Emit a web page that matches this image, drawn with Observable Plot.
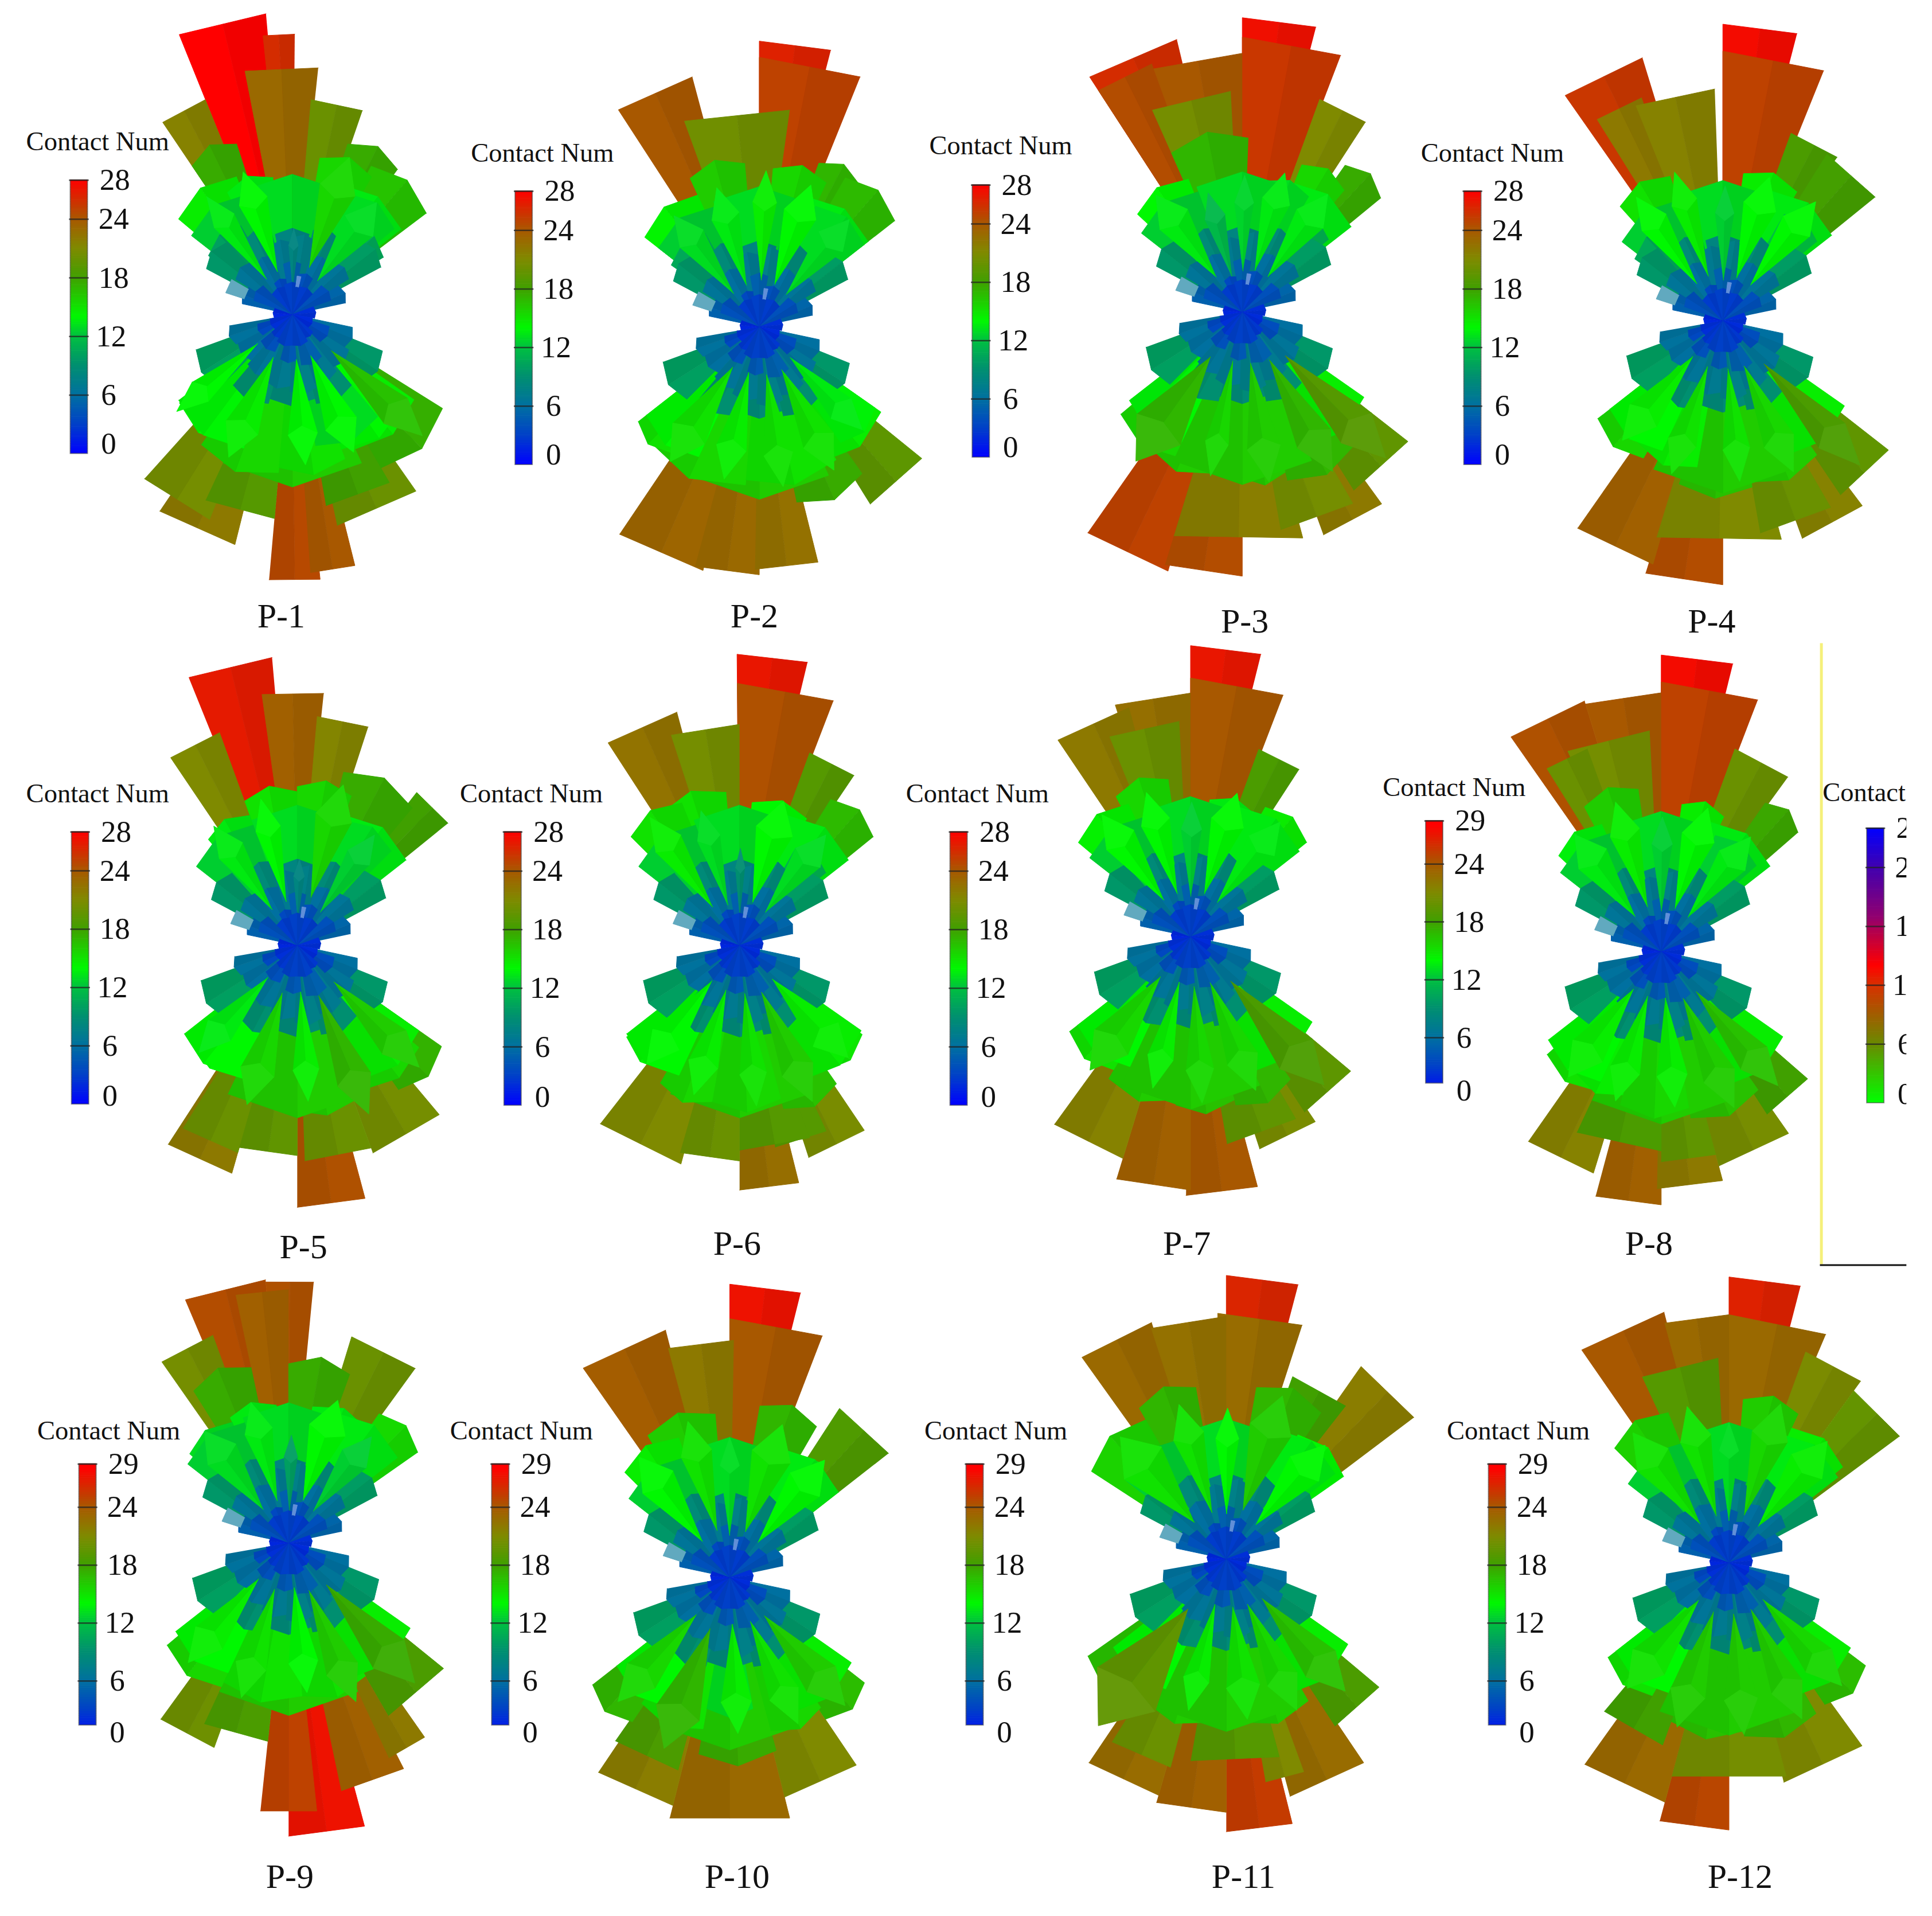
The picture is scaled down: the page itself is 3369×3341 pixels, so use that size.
<!DOCTYPE html>
<html><head><meta charset="utf-8">
<style>html,body{margin:0;padding:0;background:#fff}svg{display:block}</style>
<script src="https://cdn.jsdelivr.net/npm/d3@7"></script>
<script src="https://cdn.jsdelivr.net/npm/@observablehq/plot@0.6"></script>
</head><body><div id="c"></div><script>
// Each wedge: [start angle, end angle (degrees clockwise from up), contact number]
const p1 = [[-22,-5,28],[-6,0.5,26],[-11,6,23],[-34,-22,21.5],[5,19,20],[18,36,17.5],[28,53,16.4],[-34,-18,17.5],[-50,-22,14.5],[-28,-8,13.5],[-55,-30,10],[10,30,15.5],[25,50,13],[35,58,10.5],
  [194,214,22],[202,222,20.5],[174,185,24.7],[166,176,24],[145,168,20],[122,150,17.3],[150,170,18],[185,205,19],[200,233,13.9],[130,160,14],[160,185,15],[185,215,15.5],[140,170,13]];
const p2 = [[-33,-15,24],[0,14.5,26.5],[0,22,25],[-20,8,20.3],[30,52,16.8],[20,35,17],[-52,-25,14.2],[-55,-30,10.5],[-25,-5,16],[5,25,15.5],[25,52,13],
  [193,214,23.2],[180,195,23],[166,181,22.5],[129,148,19.4],[145,168,17.5],[215,232,15],[185,225,15.5],[150,185,15],[125,145,13.8]];
const p3 = [[-33,-13.5,26],[-33,-20,24.5],[0,14.5,27.3],[0,21,25.5],[-20,0,24],[20,33,21],[-24,-3,20.5],[-47,-22,14],[35,50.6,17.5],[22,40,15.5],[-24,2,17],[10,30,13],[30,50,11],
  [196,215,25],[180,197,24.5],[165,197,21.7],[144,160,22],[150,170,20.5],[128,148,19.5],[140,165,17],[165,180,16.2],[205,230,15.5],[215,232,13.8],[190,215,16]];
const p4 = [[-35,-17,25.5],[0,14.5,27.5],[0,22,25],[-22,-2,21.5],[-32,-20,22],[32,51,18.2],[20,35,18.5],[-42,-20,15],[-55,-30,10.5],[8,30,14.5],[30,50,12],
  [196,215,23.5],[180,197,24.5],[165,197,21],[143,160,21.5],[150,170,20],[128,146,19.5],[210,232,15.5],[145,170,16],[170,195,16.5],[190,215,14.5]];
const p5 = [[-22,-5,26.8],[-8,6,23.5],[-34,-20,21],[5,18,21.3],[38,51,18],[15,40,17.5],[-40,-20,13.5],[-20,0,15],[0,20,15.5],[20,45,13],
  [196,213,22],[165,180,24.3],[125,145,17.2],[140,160,20.5],[160,178,20],[180,196,19.5],[196,212,20],[200,231,14],[130,155,15.5],[155,185,16]];
const p6 = [[-0.5,13.5,27],[-0.5,21,24.3],[-33,-15,22.4],[-18,0,20.5],[20,34,19],[32,51,16.8],[-30,-5,15],[-45,-22,15],[5,28,14],[30,50,11],
  [195,218,21],[166,180,22.7],[146,162,20.7],[155,170,19],[126,146,14.8],[180,196,20],[160,180,19],[210,231,14.2],[145,165,16.5],[165,190,15.5],[190,210,15.5]];
const p7 = [[0,14,27],[0,21,24],[-34,-15,22],[-18,0,22.6],[-22,-3,20],[20,33,18.5],[30,51,14.6],[-50,-25,14.3],[-28,-8,15.5],[8,28,13.5],
  [197,216,21.5],[180,197,23.5],[165,181,24],[146,162,20.7],[150,170,19.5],[130,147,19.4],[210,232,15],[145,165,17],[165,185,16.5],[185,210,16]];
const p8 = [[0,14,27.5],[0,21,25],[-35,-17,24.3],[-17,0,24],[-25,-3,20.5],[-32,-20,20],[20,36,20],[35,49,17.7],[-47,-25,13.7],[-28,-8,16],[8,25,14.5],[25,48,12.5],
  [197,215,21.5],[180,195,23.5],[165,181,22],[145,165,20.6],[131,147,18],[205,228,15],[165,180,19.5],[180,205,18.5],[145,170,16.5],[170,195,15.5],[195,215,14.5]];
const p9 = [[-23,-5,24.5],[-12,0,23.5],[-5,5.5,24.3],[-35,-20,20.5],[17,36,20],[35,55,15.4],[-32,-12,17.5],[0,20,17.5],[-48,-25,13],[-25,-5,13.5],[10,35,13.5],
  [200,216,20.2],[165,180,27.2],[174,186,25],[153,168,23.5],[145,155,22],[129,150,18.5],[186,205,18.5],[205,230,15.5],[150,175,15],[175,205,15]];
const p10 = [[0,14,27.2],[0,21,24],[-35,-14.5,23.7],[33,52,18.7],[-15,1,22],[10,30,17],[-30,-5,16],[-45,-20,14.5],[25,50,13.5],
  [194,214,21.8],[166,194,23],[146,166,21],[128,146,16.7],[214,232,17],[195,215,18.5],[165,190,17.5],[145,165,15.5],[190,215,15],[170,190,13]];
const p11 = [[0,14.7,26.3],[-2,18,22.8],[-35.6,-17.5,23],[-18,0,22.5],[35,53,21.8],[-57,-30,15.7],[-30,-10,17],[10,33,17],[30,55,14],[20,38,18],
  [196,214,22.8],[166,180,25.3],[146,165,22.8],[160,170,21],[130,147,18.5],[212,235,16.5],[180,196,23.5],[195,212,20],[165,190,19],[150,175,16],[185,210,16]];
const p12 = [[0,14.5,26.5],[0,23,23],[-34.7,-14.5,24],[-15,0,23],[20,36,20.8],[36,53.5,19.7],[-25,-3,19],[-45,-22,15.8],[5,25,16],[25,50,14.5],
  [195,215.6,23],[180,195,24.8],[144,166,21],[127,146,16.7],[210,232,15],[165,195,20.5],[150,175,17],[175,200,16.5],[200,220,18]];
const wedgeSets = [p1,p2,p3,p4,p5,p6,p7,p8,p9,p10,p11,p12];

// narrow cones that lie in front of the blue and teal hub
const c1 = [[-42,-30,13.5],[-26,-12,14],[12,28,15.5],[28,46,13],[-3,5,8],[224,236,14],[196,212,14.5],[168,182,14],[148,164,14],[126,140,16.5]];
const c2 = [[-45,-30,13],[-24,-10,13.5],[-3,8,14.5],[12,28,14],[32,48,13],[205,222,15],[186,200,14.5],[165,178,15],[145,160,15],[128,142,13.5]];
const c3 = [[-45,-28,13.5],[-22,-10,11.5],[-4,6,12.7],[10,24,13.5],[28,44,13.5],[205,226,17],[186,196,15.5],[164,178,16],[143,158,17],[128,143,19]];
const c4 = [[-42,-28,14],[-24,-12,14.5],[-4,6,12.5],[10,26,14],[30,46,14],[212,228,14.5],[192,205,15],[168,180,15],[148,162,15.5],[130,143,18.5]];
const c5 = [[-42,-28,13.5],[-20,-8,14],[8,24,15.5],[28,42,12.5],[-3,6,8],[215,230,13.5],[190,205,15.5],[170,182,14.5],[150,164,17],[128,142,16]];
const c6 = [[-42,-28,14.5],[-22,-10,13],[-3,4,9],[8,26,14],[30,46,13],[210,226,14],[190,204,14.5],[168,180,15],[148,162,16],[128,144,14.5]];
const c7 = [[-44,-28,14],[-24,-10,14],[-5,6,12.5],[10,26,14],[30,46,13.5],[208,226,15.5],[188,200,14.5],[170,182,15.5],[150,164,15.5],[130,146,18.5]];
const c8 = [[-45,-28,13.5],[-24,-10,14.5],[-5,6,12.5],[10,26,14],[30,46,13.5],[208,225,14.5],[190,204,14.5],[168,182,14.5],[148,162,16],[132,146,16.5]];
const c9 = [[-46,-28,13],[-22,-8,13.5],[-3,6,10],[10,28,14],[30,46,12.5],[212,228,14.5],[190,204,15],[166,180,14],[150,164,16],[130,146,17.5]];
const c10 = [[-46,-28,14],[-22,-8,15],[-5,5,13],[10,28,15],[30,48,14],[214,230,15.5],[192,210,17],[170,184,14.5],[148,162,15],[130,146,16]];
const c11 = [[-52,-30,15],[-24,-10,15],[-5,6,14],[10,28,16],[32,50,14],[205,230,19.5],[188,200,14.5],[165,180,15],[148,162,15.5],[130,146,16.5]];
const c12 = [[-45,-28,15],[-22,-8,15],[-5,5,13],[10,26,15.5],[30,48,14.5],[210,228,15],[190,205,16],[168,182,16],[148,162,16],[130,145,15.5]];
const coneSets = [c1,c2,c3,c4,c5,c6,c7,c8,c9,c10,c11,c12];

const domeWedges = [[-52,-20,12.5],[-20,20,13],[20,52,13.5],[125,155,14.5],[155,205,16],[205,232,14]];
const midWedges = [[-62,-42,9.5],[42,62,9.8],[-36,-14,8.5],[14,36,8.5],[-12,12,8],[112,135,9.5],[225,250,10],[140,165,9],[165,195,8.5],[195,220,9]];
const coreWedges = [[-78,-58,5],[-58,-38,6.5],[-38,-18,6],[-18,0,7],[0,18,7.5],[18,38,6],[38,58,6.5],[58,78,5.3],[-70,-45,4],[-30,-10,3.5],[-10,10,5],[10,30,4],[45,70,4],
  [102,122,6],[122,142,6.5],[142,162,7],[162,182,7.5],[182,202,7],[202,222,6.5],[222,242,6],[242,260,6.2],[108,135,3.8],[145,170,5],[175,195,4.5],[205,230,4],[235,255,3.5]];
const hubWedges = [[-100,-70,1.8],[70,100,2.2],[100,130,2],[230,260,2.2],[-45,-15,2.8],[15,45,2.8],[-15,15,3],[150,180,3],[180,210,3],[130,150,2.6],[210,230,2.6]];
const paleWedges = [[-72,-60,6.5],[7,13,3.6]];

const panelNames = ["P-1","P-2","P-3","P-4","P-5","P-6","P-7","P-8","P-9","P-10","P-11","P-12"];
const centerX = [237,616,1008,1398,241,600,966,1348,234,592,995,1403];
const centerY = [255,265,253,260,767,767,760,772,1252,1280,1265,1268];
const nameX = [228,612,1010,1389,246,598,963,1338,235,598,1009,1412];
const nameY = [500,500,504,504,1012,1009,1009,1009,1523,1523,1523,1523];
const barLeft = [57,418,789,1188,58,409,771,1157,64,399,784,1208];
const barTop = [146,155,150,155,675,675,675,666,1188,1188,1188,1188];
const barBottom = [368,377,371,377,896,897,897,879,1400,1400,1400,1400];
const titleX = [79,440,812,1211,79,431,793,1180,88,423,808,1232];
const titleY = [115,124,118,124,644,644,644,639,1161,1161,1161,1161];
const barMax = [28,28,28,28,28,28,28,29,29,29,29,29];
const zeroShift = [-8,-8,-8,-8,-7,-7,-7,6,6,6,6,6];
const tickValues = [0,6,12,18,24];
const tickNudge = [17,17,19,21,21,22];

const colorStops = [0,3,6,9,12,14,18,21,24,28];
const colorHex = ["#0000ff","#0040c8","#0070a0","#008f70","#00c040","#00f800","#40a000","#7f8a00","#a85800","#ff0000"];
const altStops = [0,6,12,14,19,24,28];
const altHex = ["#00ff00","#6a8a00","#d83000","#ff0000","#900070","#4000b0","#0000ff"];

const K = 8.75, BW = 14;
const dark = colorHex.map(c => d3.rgb(c).darker(0.16).formatHex());
const light = colorHex.map(c => d3.interpolateRgb(c,"#ffffff")(0.04));
const pale = colorHex.map(c => d3.interpolateRgb(c,"#ffffff")(0.38));
const colorDomain = [...colorStops, ...colorStops.map(d=>d+100), ...colorStops.map(d=>d+200), ...colorStops.map(d=>d+400), ...altStops.map(d=>d+600)];
const colorRange = [...colorHex, ...dark, ...light, ...pale, ...altHex];

const rows = [];
let id = 0;
const rad = d=>d*Math.PI/180;
wedgeSets.forEach((set,pi) => {
  const cx = centerX[pi], cy = centerY[pi];
  const pt = (a,q)=>[cx+q*Math.sin(rad(a)), cy-q*Math.cos(rad(a))];
  const add = (pts,v,tone)=>{ id++; pts.forEach(p=>rows.push({id,x:p[0],y:p[1],c:v+tone})); };
  const wedge = ([a0,a1,v]) => {
    const r=v*K, m=(a0+a1)/2, peaked=v<18, q=peaked?0.95:1;
    const L=pt(a0,r*q), R=pt(a1,r*q);
    const M=peaked?pt(m,r):[(L[0]+R[0])/2,(L[1]+R[1])/2];
    add([[cx,cy],L,M],v,0);
    add([[cx,cy],M,R],v,100);
  };
  const cone = ([a0,a1,v]) => {
    const r=v*K, m=(a0+a1)/2;
    const L=pt(a0,r*0.8), R=pt(a1,r*0.8), T=pt(m,r), A=pt(m,r*0.3), N=pt(m,r*0.74);
    add([A,L,N],v,0);
    add([A,N,R],v,100);
    add([L,T,R,N],v,200);
  };
  [...set,...domeWedges].filter(d=>d[2]>=10).sort((a,b)=>b[2]-a[2]).forEach(wedge);
  midWedges.forEach(wedge);
  [...coreWedges].sort((a,b)=>b[2]-a[2]).forEach(wedge);
  coneSets[pi].forEach(cone);
  hubWedges.forEach(wedge);
  paleWedges.forEach(([a0,a1,v])=>{
    const r=v*K; add([pt(a0,r*0.72),pt(a0,r),pt(a1,r),pt(a1,r*0.72)],v,400);
  });
});

const barCells = [], barTicks = [], barLabels = [];
barLeft.forEach((x0,i)=>{
  const top=barTop[i], bot=barBottom[i], max=barMax[i], h=bot-top;
  const yOf = max===28 ? t=>bot-t*h/28 : t=>top+35+(24-t)*47/6;
  const valOf = max===28 ? y=>(bot-y)*28/h : y=>24+(top+35-y)*6/47;
  for(let s=0;s<112;s++){
    const y1=bot-h*s/112, y2=bot-h*(s+1)/112;
    barCells.push({x1:x0,x2:x0+BW,y1,y2:y2-0.3,c:Math.max(0,Math.min(28,valOf((y1+y2)/2)))});
  }
  [...tickValues,max].forEach((t,j)=>{
    const y = t===max ? top : yOf(t);
    if(t>0) barTicks.push({x1:x0-1,x2:x0+BW+1,y});
    barLabels.push({x:x0+BW+tickNudge[j],y:t===0?bot+zeroShift[i]:y,t:String(t)});
  });
});
// the cut-off colour bar at the right edge (reversed map)
const altBar = {x0:1515,top:672,bot:895,max:29};
for(let s=0;s<112;s++){
  const h=altBar.bot-altBar.top;
  barCells.push({x1:altBar.x0,x2:altBar.x0+BW,y1:altBar.bot-h*s/112,y2:altBar.bot-h*(s+1)/112-0.3,c:600+(s+0.5)/112*28});
}
[...tickValues,altBar.max].forEach((t,j)=>{
  const h=altBar.bot-altBar.top, y=t===altBar.max?altBar.top:altBar.bot-h*t/28;
  if(t>0) barTicks.push({x1:altBar.x0-1,x2:altBar.x0+BW+1,y});
  barLabels.push({x:altBar.x0+BW+tickNudge[j],y:y+(t===0?-7:0),t:String(t)});
});
const barFrames = [...barLeft.map((x,i)=>({x1:x,x2:x+BW,y1:barTop[i],y2:barBottom[i]})),{x1:altBar.x0,x2:altBar.x0+BW,y1:altBar.top,y2:altBar.bot}];
const titles = titleX.map((x,i)=>({x,y:titleY[i]}));
const names = panelNames.map((t,i)=>({t,x:nameX[i],y:nameY[i]}));
const serif = "Liberation Serif, Times New Roman, serif";

const chart = Plot.plot({
  width:3369, height:3341, margin:0,
  style:{background:"#fff"},
  x:{domain:[0,1568],range:[0,3369],axis:null},
  y:{domain:[0,1555],range:[0,3341],axis:null},
  color:{type:"linear",domain:colorDomain,range:colorRange,interpolate:"rgb"},
  marks:[
    Plot.line(rows,{x:"x",y:"y",z:"id",fill:"c",stroke:"c",strokeWidth:1,curve:"linear"}),
    Plot.rect(barCells,{x1:"x1",x2:"x2",y1:"y1",y2:"y2",fill:"c"}),
    Plot.rect(barFrames,{x1:"x1",x2:"x2",y1:"y1",y2:"y2",fill:"none",stroke:"#444",strokeOpacity:0.55,strokeWidth:2}),
    Plot.ruleY(barTicks,{y:"y",x1:"x1",x2:"x2",stroke:"#222",strokeOpacity:0.75,strokeWidth:2.5}),
    Plot.text(barLabels,{x:"x",y:"y",text:"t",fontFamily:serif,fontSize:53,fill:"#111",textAnchor:"middle",lineAnchor:"middle"}),
    Plot.text(titles,{x:"x",y:"y",text:()=>"Contact Num",fontFamily:serif,fontSize:46.5,fill:"#111",textAnchor:"middle",lineAnchor:"middle"}),
    Plot.text([{x:1479,y:643}],{x:"x",y:"y",text:()=>"Contact",fontFamily:serif,fontSize:46.5,fill:"#111",textAnchor:"start",lineAnchor:"middle"}),
    Plot.text(names,{x:"x",y:"y",text:"t",fontFamily:serif,fontSize:60,fill:"#111",textAnchor:"middle",lineAnchor:"middle"}),
    Plot.rect([{x1:1547.2,x2:1568,y1:0,y2:1555}],{x1:"x1",x2:"x2",y1:"y1",y2:"y2",fill:"#fff"}),
    Plot.ruleX([1478],{y1:522,y2:1026,stroke:"#f5f07a",strokeWidth:5}),
    Plot.ruleY([1026.5],{x1:1477,x2:1547.2,stroke:"#111",strokeWidth:3})
  ]
});
document.getElementById("c").appendChild(chart);
</script></body></html>
